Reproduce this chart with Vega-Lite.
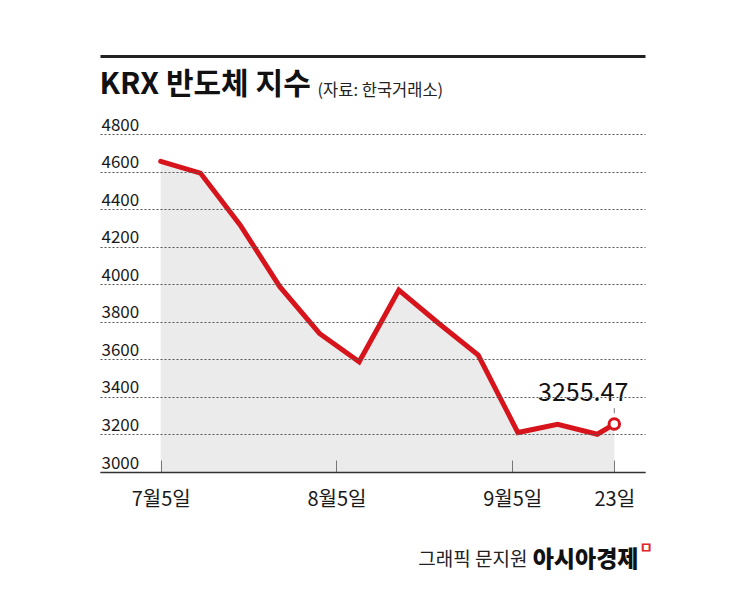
{
  "$schema": "https://vega.github.io/schema/vega-lite/v6.json",
  "width": 545,
  "height": 338,
  "autosize": {"type": "none"},
  "padding": {"left": 100, "top": 134, "right": 100, "bottom": 124},
  "background": "white",
  "config": {"font": "Noto Sans CJK KR", "view": {"stroke": null}},
  "title": {"text": "ㅁ", "orient": "bottom", "anchor": "end", "frame": "group", "color": "#e0262b", "fontSize": 15, "fontWeight": "bold", "dx": 8, "offset": 0, "dy": -30, "baseline": "top"},
  "data": {
    "values": [
      {"date": "2024-07-05", "value": 4654},
      {"date": "2024-07-12", "value": 4592},
      {"date": "2024-07-19", "value": 4316},
      {"date": "2024-07-26", "value": 3987},
      {"date": "2024-08-02", "value": 3738},
      {"date": "2024-08-09", "value": 3587},
      {"date": "2024-08-16", "value": 3969},
      {"date": "2024-08-23", "value": 3792},
      {"date": "2024-08-30", "value": 3623},
      {"date": "2024-09-06", "value": 3210},
      {"date": "2024-09-13", "value": 3254},
      {"date": "2024-09-20", "value": 3201},
      {"date": "2024-09-23", "value": 3255.47, "label": "3255.47"}
    ]
  },
  "layer": [
    {
      "mark": {"type": "area", "color": "#ebebeb"},
      "encoding": {
        "x": {
          "field": "date", "type": "temporal",
          "scale": {"type": "utc", "domain": [{"year": 2024, "month": 6, "date": 24, "hours": 7, "utc": true}, {"year": 2024, "month": 9, "date": 28, "hours": 10, "utc": true}]},
          "axis": {
            "orient": "top", "offset": 78, "domain": true, "domainColor": "#222", "domainWidth": 3,
            "ticks": false, "labels": false, "grid": false,
            "title": "(자료: 한국거래소)", "titleX": 217, "titleY": 39, "titleAlign": "left", "titleAnchor": null,
            "titleBaseline": "alphabetic", "titleFontSize": 16.5, "titleFontWeight": "normal", "titleColor": "#222"
          }
        },
        "y": {
          "field": "value", "type": "quantitative",
          "scale": {"domain": [3000, 4800], "zero": false, "nice": false},
          "axis": {
            "orient": "left", "values": [3000, 3200, 3400, 3600, 3800, 4000, 4200, 4400, 4600, 4800], "format": "d",
            "domain": false, "ticks": false, "tickSize": 0, "grid": true, "gridColor": "#555", "gridDash": [2, 2], "gridWidth": 1,
            "labelAlign": "left", "labelBaseline": "alphabetic", "labelPadding": -1, "labelOffset": -4,
            "labelFontSize": 17, "labelColor": "#1a1a1a", "labelOverlap": false, "labelFlush": false,
            "title": "KRX 반도체 지수", "titleAngle": 0, "titleAlign": "left", "titleBaseline": "alphabetic",
            "titleX": -1, "titleY": -41, "titleFontSize": 30, "titleFontWeight": "bold", "titleColor": "#111",
            "zindex": 1
          }
        },
        "y2": {"datum": 3000}
      }
    },
    {
      "mark": {"type": "line", "color": "#d7141c", "strokeWidth": 5, "strokeCap": "round"},
      "encoding": {
        "x": {
          "field": "date", "type": "temporal",
          "scale": {"type": "utc", "domain": [{"year": 2024, "month": 6, "date": 24, "hours": 7, "utc": true}, {"year": 2024, "month": 9, "date": 28, "hours": 10, "utc": true}]},
          "axis": {
            "orient": "bottom",
            "values": [{"year": 2024, "month": 7, "date": 5, "utc": true}, {"year": 2024, "month": 8, "date": 5, "utc": true}, {"year": 2024, "month": 9, "date": 5, "utc": true}, {"year": 2024, "month": 9, "date": 23, "utc": true}],
            "labelExpr": "utcdate(datum.value) == 23 ? '23일' : (utcmonth(datum.value) + 1) + '월' + utcdate(datum.value) + '일'",
            "domain": true, "domainColor": "#333", "domainWidth": 1.5,
            "ticks": true, "tickSize": -12, "tickColor": "#777", "tickWidth": 1,
            "labelPadding": 29, "labelFontSize": 20, "labelColor": "#1a1a1a", "labelOverlap": false, "labelFlush": false,
            "grid": false,
            "title": "그래픽 문지원", "titleX": 427, "titleY": 93, "titleAlign": "right", "titleAnchor": null,
            "titleBaseline": "alphabetic", "titleFontSize": 19, "titleFontWeight": "normal", "titleColor": "#222",
            "zindex": 1
          }
        },
        "y": {
          "field": "value", "type": "quantitative",
          "scale": {"domain": [3000, 4800], "zero": false, "nice": false},
          "axis": {
            "orient": "right", "domain": false, "ticks": false, "labels": false, "grid": false,
            "title": "아시아경제", "titleAngle": 0, "titleAlign": "right", "titleBaseline": "alphabetic",
            "titleX": -7, "titleY": 432, "titleFontSize": 23, "titleFontWeight": 900, "titleColor": "#111"
          }
        }
      }
    },
    {
      "transform": [{"filter": "isValid(datum.label)"}],
      "mark": {"type": "rule", "color": "#777", "strokeWidth": 1},
      "encoding": {
        "x": {"field": "date", "type": "temporal", "axis": null,
          "scale": {"type": "utc", "domain": [{"year": 2024, "month": 6, "date": 24, "hours": 7, "utc": true}, {"year": 2024, "month": 9, "date": 28, "hours": 10, "utc": true}]}},
        "y": {"datum": 3313, "type": "quantitative", "axis": null, "scale": {"domain": [3000, 4800], "zero": false, "nice": false}},
        "y2": {"datum": 3340}
      }
    },
    {
      "transform": [{"filter": "isValid(datum.label)"}],
      "mark": {"type": "point", "shape": "circle", "size": 110, "stroke": "#d7141c", "strokeWidth": 3, "fill": "white", "fillOpacity": 1, "opacity": 1},
      "encoding": {
        "x": {"field": "date", "type": "temporal", "axis": null,
          "scale": {"type": "utc", "domain": [{"year": 2024, "month": 6, "date": 24, "hours": 7, "utc": true}, {"year": 2024, "month": 9, "date": 28, "hours": 10, "utc": true}]}},
        "y": {"field": "value", "type": "quantitative", "axis": null, "scale": {"domain": [3000, 4800], "zero": false, "nice": false}}
      }
    },
    {
      "transform": [{"filter": "isValid(datum.label)"}],
      "mark": {"type": "text", "align": "right", "baseline": "alphabetic", "dx": 14, "dy": -23, "fontSize": 25, "color": "#111"},
      "encoding": {
        "x": {"field": "date", "type": "temporal", "axis": null,
          "scale": {"type": "utc", "domain": [{"year": 2024, "month": 6, "date": 24, "hours": 7, "utc": true}, {"year": 2024, "month": 9, "date": 28, "hours": 10, "utc": true}]}},
        "y": {"field": "value", "type": "quantitative", "axis": null, "scale": {"domain": [3000, 4800], "zero": false, "nice": false}},
        "text": {"field": "label"}
      }
    }
  ],
  "resolve": {"axis": {"x": "independent", "y": "independent"}}
}
